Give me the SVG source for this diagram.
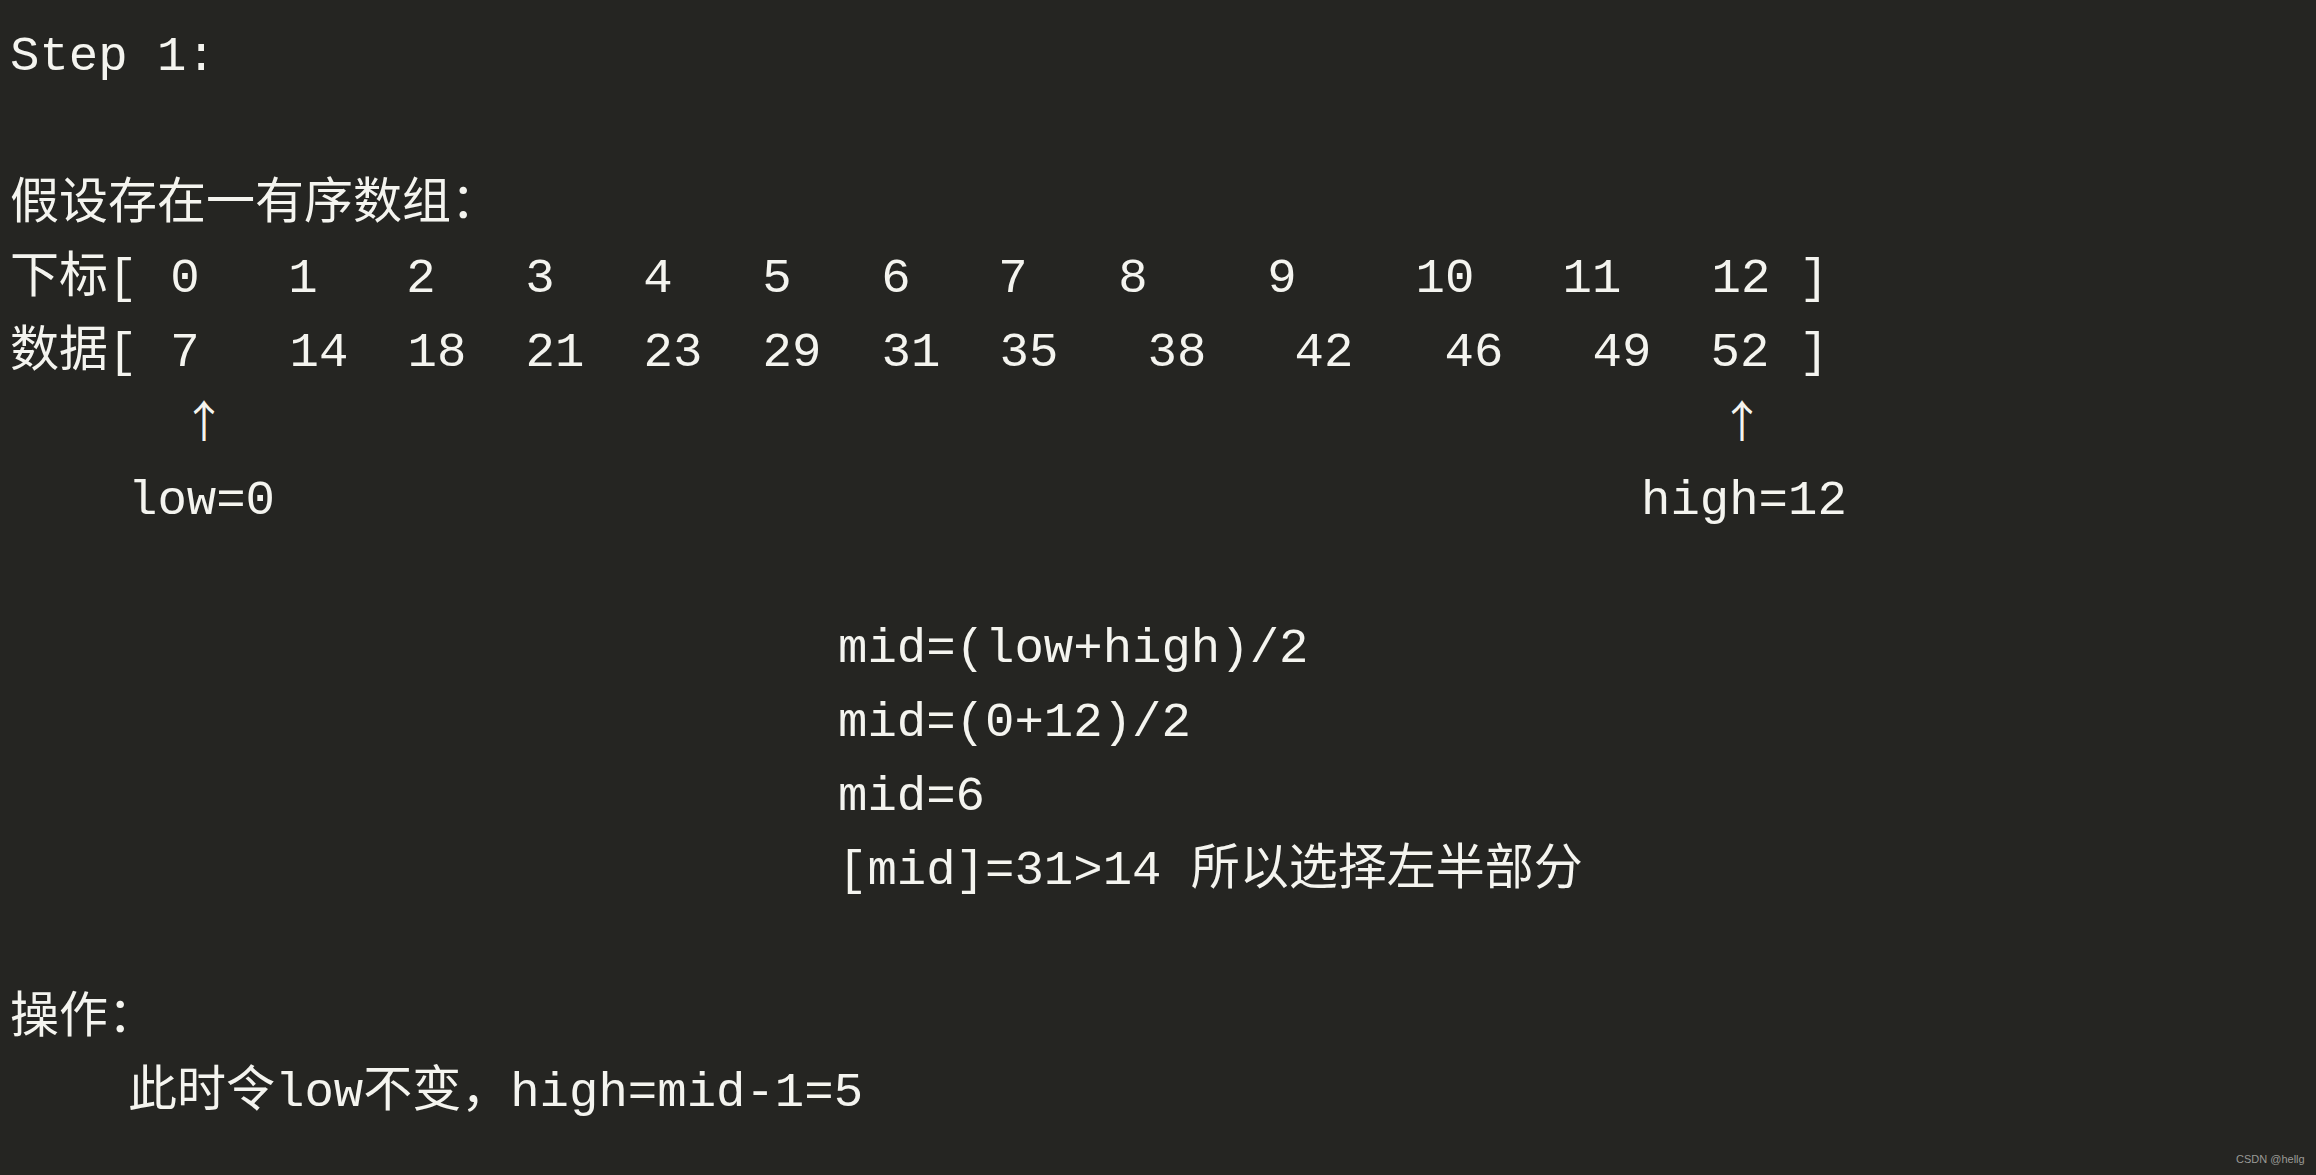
<svg xmlns="http://www.w3.org/2000/svg" width="2316" height="1175" viewBox="0 0 2316 1175">
<style>
.t{font-family:"Liberation Mono","Noto Sans CJK SC",monospace;font-size:49px;fill:#f4f4ef;}
.c{text-anchor:middle;}
.ar{font-family:"Noto Sans CJK SC","DejaVu Sans",sans-serif;font-size:44px;fill:#f4f4ef;text-anchor:middle;}
.wm{font-family:"Liberation Sans","Noto Sans CJK SC",sans-serif;font-size:11px;fill:#9a9a96;}
</style>
<rect x="0" y="0" width="2316" height="1175" fill="#252522"/>
<g id="title"><text class="t" x="10" y="70">Step 1:</text></g>
<g id="intro"><text class="t" x="10" y="218">假设存在一有序数组：</text></g>
<g id="index-row">
<text class="t" x="10" y="292">下标[</text>
<text class="t c" x="185" y="292">0</text>
<text class="t c" x="303" y="292">1</text>
<text class="t c" x="421" y="292">2</text>
<text class="t c" x="540" y="292">3</text>
<text class="t c" x="658" y="292">4</text>
<text class="t c" x="777" y="292">5</text>
<text class="t c" x="896" y="292">6</text>
<text class="t c" x="1013" y="292">7</text>
<text class="t c" x="1133" y="292">8</text>
<text class="t c" x="1282" y="292">9</text>
<text class="t c" x="1445" y="292">10</text>
<text class="t c" x="1592" y="292">11</text>
<text class="t c" x="1741" y="292">12</text>
<text class="t c" x="1814" y="292">]</text>
</g>
<g id="data-row">
<text class="t" x="10" y="366">数据[</text>
<text class="t c" x="185" y="366">7</text>
<text class="t c" x="319" y="366">14</text>
<text class="t c" x="437" y="366">18</text>
<text class="t c" x="555" y="366">21</text>
<text class="t c" x="673" y="366">23</text>
<text class="t c" x="792" y="366">29</text>
<text class="t c" x="911" y="366">31</text>
<text class="t c" x="1029" y="366">35</text>
<text class="t c" x="1177" y="366">38</text>
<text class="t c" x="1324" y="366">42</text>
<text class="t c" x="1474" y="366">46</text>
<text class="t c" x="1622" y="366">49</text>
<text class="t c" x="1740" y="366">52</text>
<text class="t c" x="1814" y="366">]</text>
</g>
<g id="pointers">
<text class="ar" x="204" y="438">↑</text>
<text class="ar" x="1742" y="438">↑</text>
<text class="t" x="128" y="514">low=0</text>
<text class="t" x="1641" y="514">high=12</text>
</g>
<g id="calc">
<text class="t" x="838" y="662">mid=(low+high)/2</text>
<text class="t" x="838" y="736">mid=(0+12)/2</text>
<text class="t" x="838" y="810">mid=6</text>
<text class="t" x="838" y="884">[mid]=31&gt;14 所以选择左半部分</text>
</g>
<g id="operation">
<text class="t" x="10" y="1032">操作：</text>
<text class="t" x="128" y="1106">此时令low不变，high=mid-1=5</text>
</g>
<g id="watermark"><text class="wm" x="2236" y="1163">CSDN @hellg</text></g>
</svg>
